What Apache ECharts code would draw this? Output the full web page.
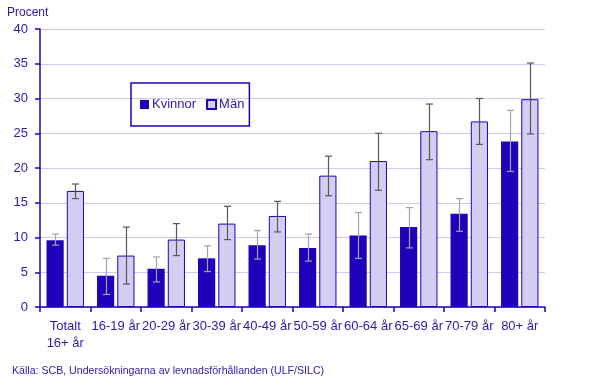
<!DOCTYPE html>
<html><head><meta charset="utf-8">
<script src="https://cdn.jsdelivr.net/npm/echarts@6/dist/echarts.min.js"></script>
<style>html,body{margin:0;padding:0;background:#fff}#c{width:615px;height:386px}</style>
</head><body><div id="c"></div>
<script>
const categories = ['Totalt\n16+ år','16-19 år','20-29 år','30-39 år','40-49 år','50-59 år','60-64 år','65-69 år','70-79 år','80+ år'];
const yTicks = [0, 5, 10, 15, 20, 25, 30, 35, 40];
const kvinnor     = [9.6, 4.5, 5.5, 7.0, 8.9, 8.5, 10.3, 11.5, 13.4, 23.8];
const kvinnorLow  = [8.9, 1.8, 3.6, 5.1, 6.9, 6.6, 7.0, 8.5, 10.9, 19.5];
const kvinnorHigh = [10.5, 7.0, 7.2, 8.8, 11.0, 10.5, 13.6, 14.3, 15.6, 28.3];
const man         = [16.7, 7.4, 9.7, 12.0, 13.1, 18.9, 21.0, 25.3, 26.7, 29.9];
const manLow      = [15.6, 3.3, 7.4, 9.7, 10.8, 16.0, 16.8, 21.2, 23.4, 24.9];
const manHigh     = [17.7, 11.5, 12.0, 14.5, 15.2, 21.7, 25.0, 29.2, 30.0, 35.1];

const BAR_PCT = 0.34, GAP_PCT = 0.18;
const DARK = '#2000bb', LIGHT = '#d3cff2', TXT = '#2a1aa6';

function errRender(side, color) {
  return function (params, api) {
    const x = api.value(0);
    const lo = api.coord([x, api.value(1)]);
    const hi = api.coord([x, api.value(2)]);
    const cw = api.size([1, 0])[0];
    const bw = cw * BAR_PCT;
    const off = side * bw * (1 + GAP_PCT) / 2;
    const cx = Math.round(lo[0] + off) + 0.5;
    const cap = 3.5;
    const st = { stroke: color, lineWidth: 1.2 };
    return { type: 'group', children: [
      { type: 'line', shape: { x1: cx, y1: lo[1], x2: cx, y2: hi[1] }, style: st },
      { type: 'line', shape: { x1: cx - cap, y1: lo[1], x2: cx + cap, y2: lo[1] }, style: st },
      { type: 'line', shape: { x1: cx - cap, y1: hi[1], x2: cx + cap, y2: hi[1] }, style: st }
    ]};
  };
}

const chart = echarts.init(document.getElementById('c'), null, { renderer: 'canvas' });
chart.setOption({
  animation: false,
  textStyle: { fontFamily: 'Liberation Sans, Arial, sans-serif' },
  grid: { left: 40, right: 70, top: 29, bottom: 79, containLabel: false },
  legend: {
    data: ['Kvinnor', 'Män'],
    left: 131, top: 83,
    orient: 'horizontal',
    padding: [15, 5, 15, 9],
    itemWidth: 9, itemHeight: 9, itemGap: 10,
    icon: 'rect',
    borderColor: DARK, borderWidth: 1.5,
    textStyle: { color: TXT, fontSize: 13, padding: [0, 0, 0, -2] }
  },
  xAxis: {
    type: 'category',
    data: categories,
    axisLine: { lineStyle: { color: DARK, width: 1.5 } },
    axisTick: { show: true, length: 5, lineStyle: { color: DARK, width: 1.5 } },
    axisLabel: { interval: 0, color: TXT, fontSize: 13, margin: 11, lineHeight: 17 }
  },
  yAxis: {
    type: 'value', min: 0, max: 40, interval: 5,
    axisLine: { show: true, lineStyle: { color: DARK, width: 1.5 } },
    axisTick: { show: true, length: 5, lineStyle: { color: DARK, width: 1.5 } },
    axisLabel: { color: TXT, fontSize: 13, margin: 12,
      formatter: v => yTicks.includes(v) ? String(v) : '' },
    splitLine: { lineStyle: { color: '#cdc9f0', width: 1 } }
  },
  graphic: [
    { type: 'text', left: 7, top: 7, style: { text: 'Procent', fill: TXT, font: '12px Liberation Sans, Arial, sans-serif' } },
    { type: 'text', left: 12, top: 366, style: { text: 'Källa: SCB, Undersökningarna av levnadsförhållanden (ULF/SILC)', fill: TXT, font: '10.6px Liberation Sans, Arial, sans-serif' } }
  ],
  series: [
    { name: 'Kvinnor', type: 'bar', data: kvinnor, barWidth: (BAR_PCT * 100) + '%', barGap: (GAP_PCT * 100) + '%',
      itemStyle: { color: DARK } },
    { name: 'Män', type: 'bar', data: man, barWidth: (BAR_PCT * 100) + '%', barGap: (GAP_PCT * 100) + '%',
      itemStyle: { color: LIGHT, borderColor: DARK, borderWidth: 1 } },
    { name: 'errK', type: 'custom', z: 10, renderItem: errRender(-1, '#a3a3a3'),
      encode: { x: 0, y: [1, 2] },
      data: kvinnor.map((_, i) => [i, kvinnorLow[i], kvinnorHigh[i]]) },
    { name: 'errM', type: 'custom', z: 10, renderItem: errRender(1, '#575757'),
      encode: { x: 0, y: [1, 2] },
      data: man.map((_, i) => [i, manLow[i], manHigh[i]]) }
  ]
});
</script></body></html>
